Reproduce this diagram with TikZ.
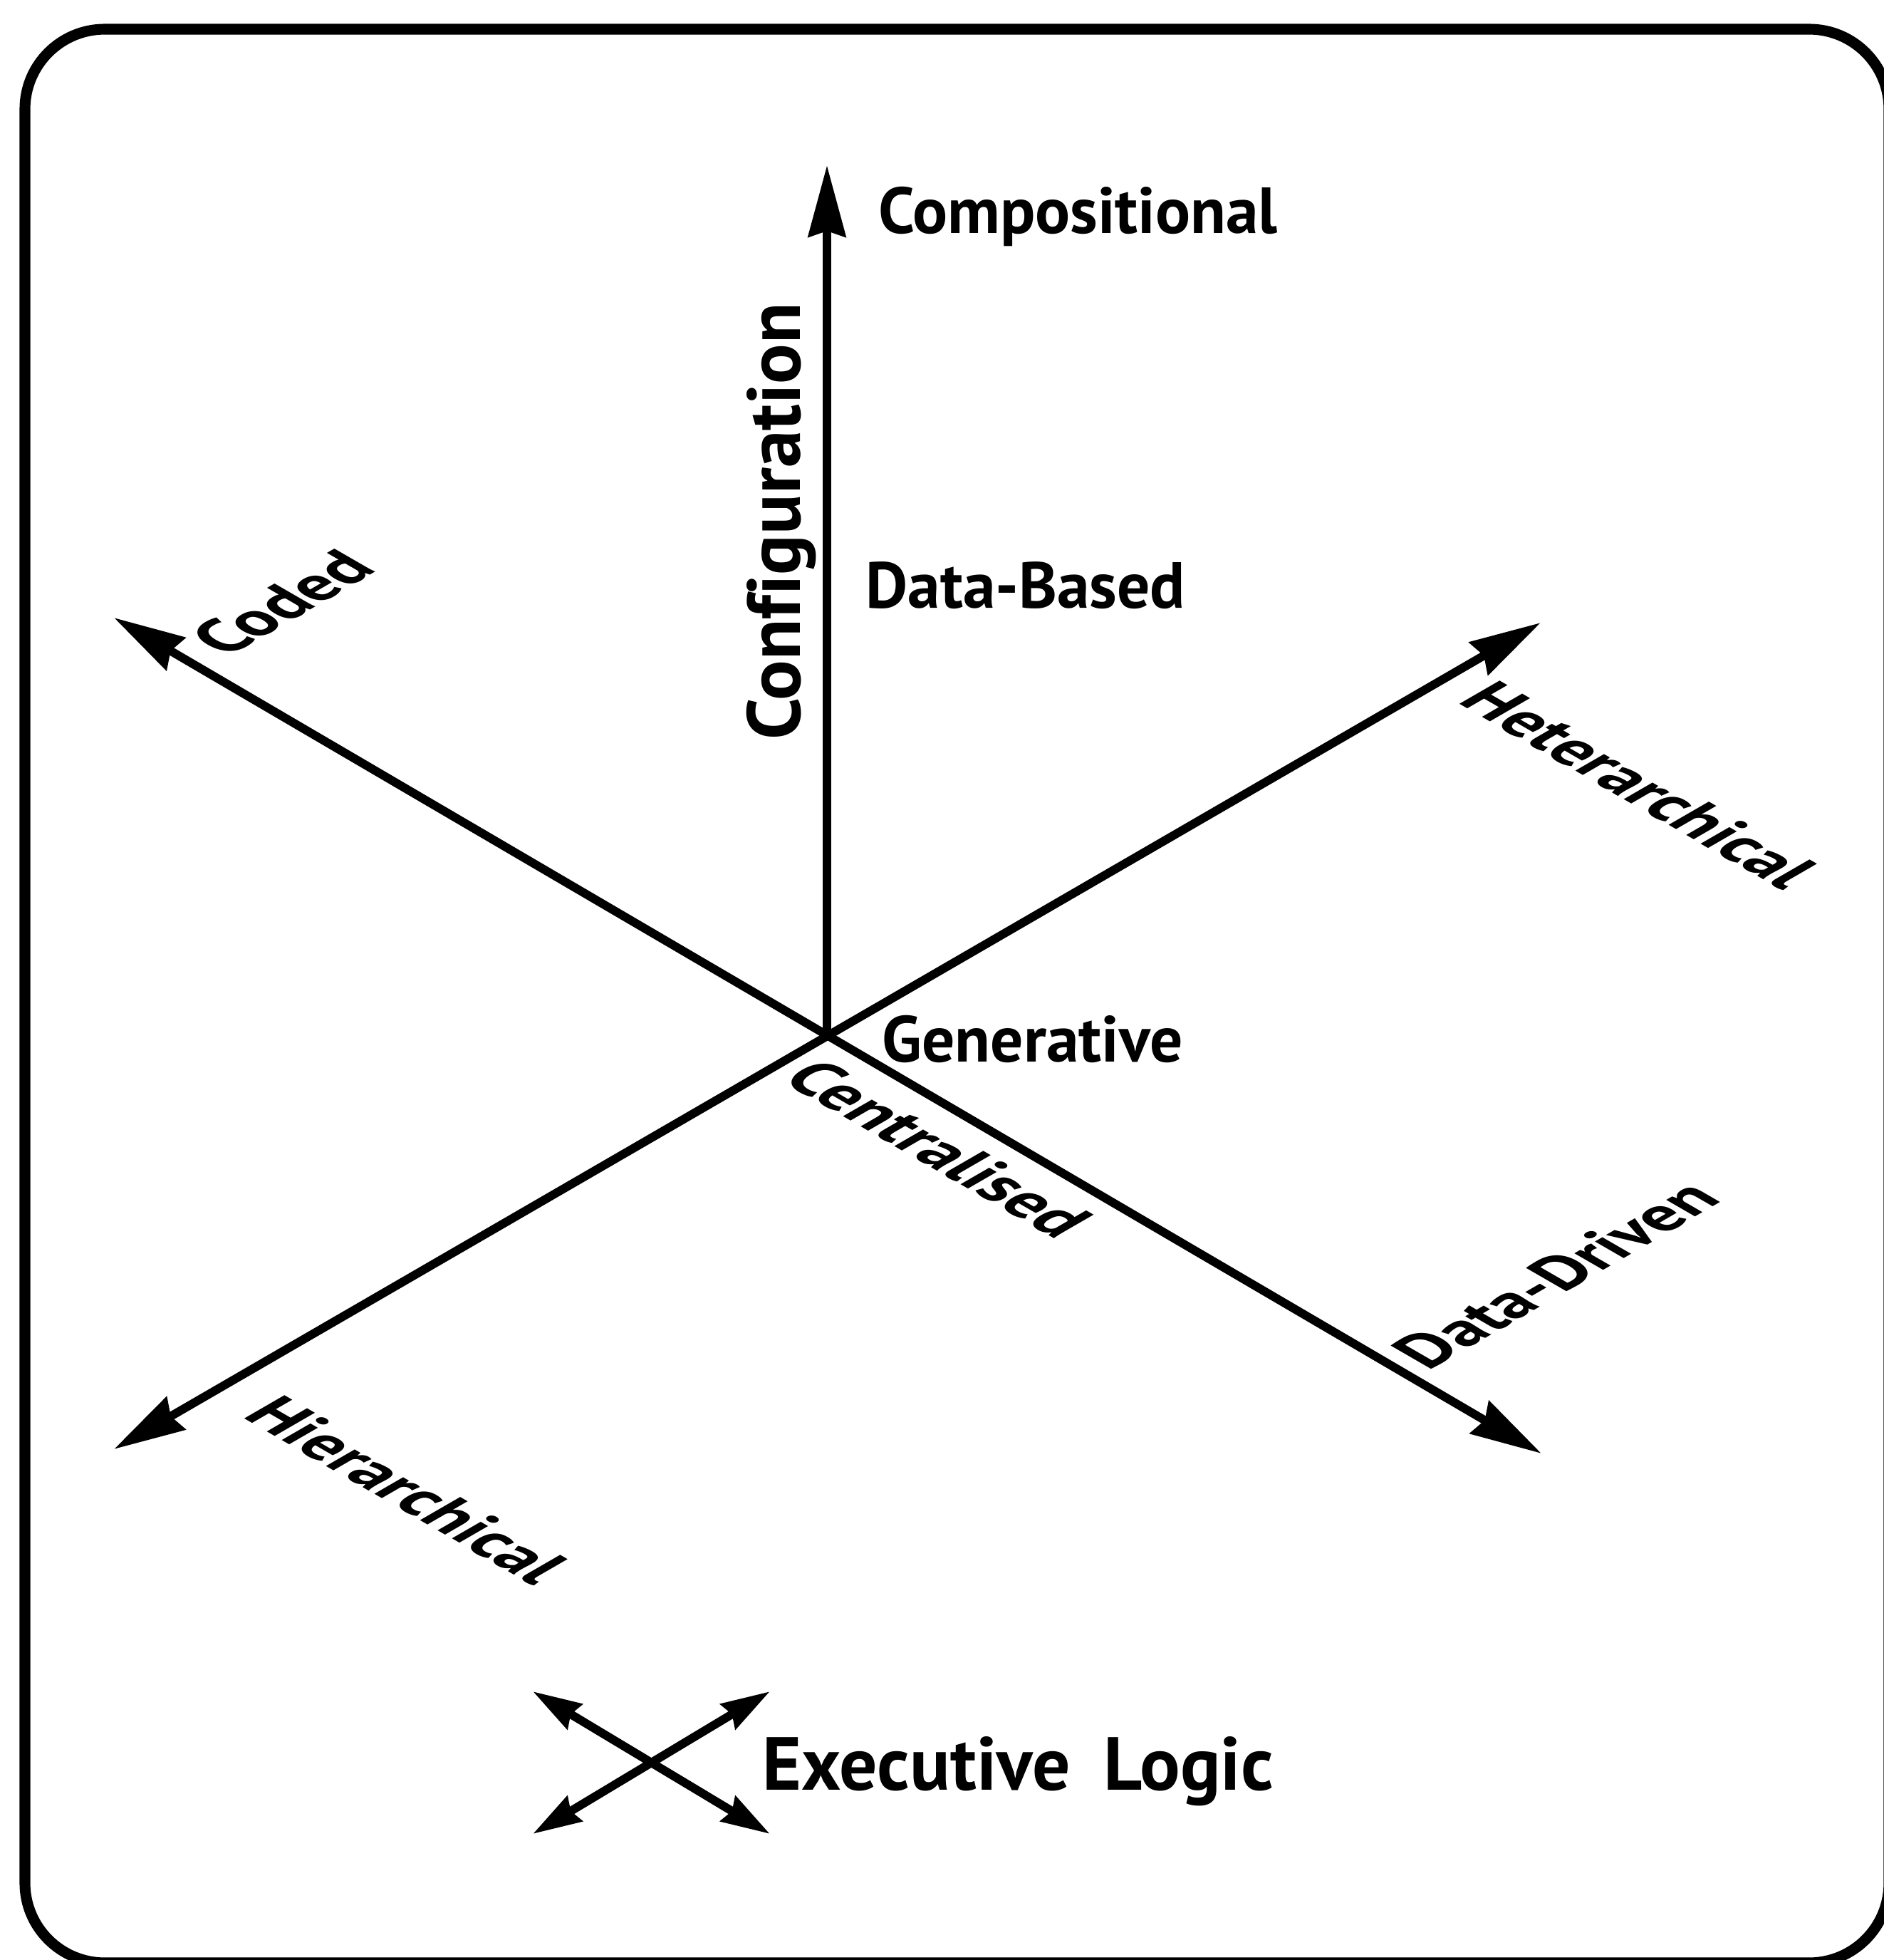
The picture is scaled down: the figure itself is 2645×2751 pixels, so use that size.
\documentclass[tikz,border=0pt]{standalone}
\usepackage{fontspec}
\setmainfont[Ligatures=CommonOff]{PT Sans}
\usetikzlibrary{arrows.meta}
\begin{document}
\begin{tikzpicture}[x=0.01cm,y=-0.01cm,
  bigtip/.tip={Stealth[length=1cm,width=0.52cm,inset=0.08cm]},
  smalltip/.tip={Stealth[length=0.68cm,width=0.4cm,inset=0.06cm]},
  frame/.style={line width=4.3pt,rounded corners=1.12cm},
  axisline/.style={line width=3.4pt},
  smallline/.style={line width=3.4pt},
  lbl/.style={inner sep=0pt,font=\fontsize{26}{30}\selectfont\bfseries},
  biglbl/.style={inner sep=0pt,font=\fontsize{30}{34}\selectfont\bfseries},
  isolbl/.style={inner sep=0pt,font=\fontsize{26.5}{30}\selectfont\bfseries,transform shape},
  isoR/.style={isolbl,cm={0.866,-0.5,0.866,0.5,(0,0)}},
  isoL/.style={isolbl,cm={0.866,0.5,-0.866,0.5,(0,0)}}]
\useasboundingbox (0,0) rectangle (2645,2751);
\draw[frame] (35,41) rectangle (2652,2755);
% axes
\coordinate (O) at (1161,1452);
\coordinate (top) at (1161,232);
\coordinate (cod) at (160,867);
\coordinate (het) at (2163,874);
\coordinate (hie) at (160,2034);
\coordinate (dd) at (2164,2040);
\draw[axisline,-{bigtip}] (O) -- (top);
\draw[axisline,{bigtip}-{bigtip}] (cod) -- (dd);
\draw[axisline,{bigtip}-{bigtip}] (hie) -- (het);
% labels
\node[lbl,anchor=base west] (comp) at (1233,327) {Compositional};
\node[lbl,anchor=base west] (dbased) at (1215,853) {Data-Based};
\node[lbl,anchor=base west] (gen) at (1238,1490) {Generative};
\node[biglbl,rotate=90,anchor=base] (conf) at (1123,732) {Configuration};
\node[isoR] (hetl) at (2302,1102) {Heterarchical};
\node[isoR] (hiel) at (572,2091) {Hierarchical};
\node[isoR] (cenl) at (1318,1612) {Centralised};
\node[isoL] (ddl) at (2184,1789) {Data-Driven};
\node[isoL] (codl) at (396,846) {Coded};
% legend
\coordinate (xa) at (748,2374);
\coordinate (xb) at (1081,2574);
\coordinate (xc) at (1081,2374);
\coordinate (xd) at (748,2574);
\draw[smallline,{smalltip}-{smalltip}] (xa) -- (xb);
\draw[smallline,{smalltip}-{smalltip}] (xc) -- (xd);
\node[biglbl,anchor=base west] (exec) at (1070,2512) {Executive\hspace{0.45em}Logic};
\end{tikzpicture}
\end{document}
